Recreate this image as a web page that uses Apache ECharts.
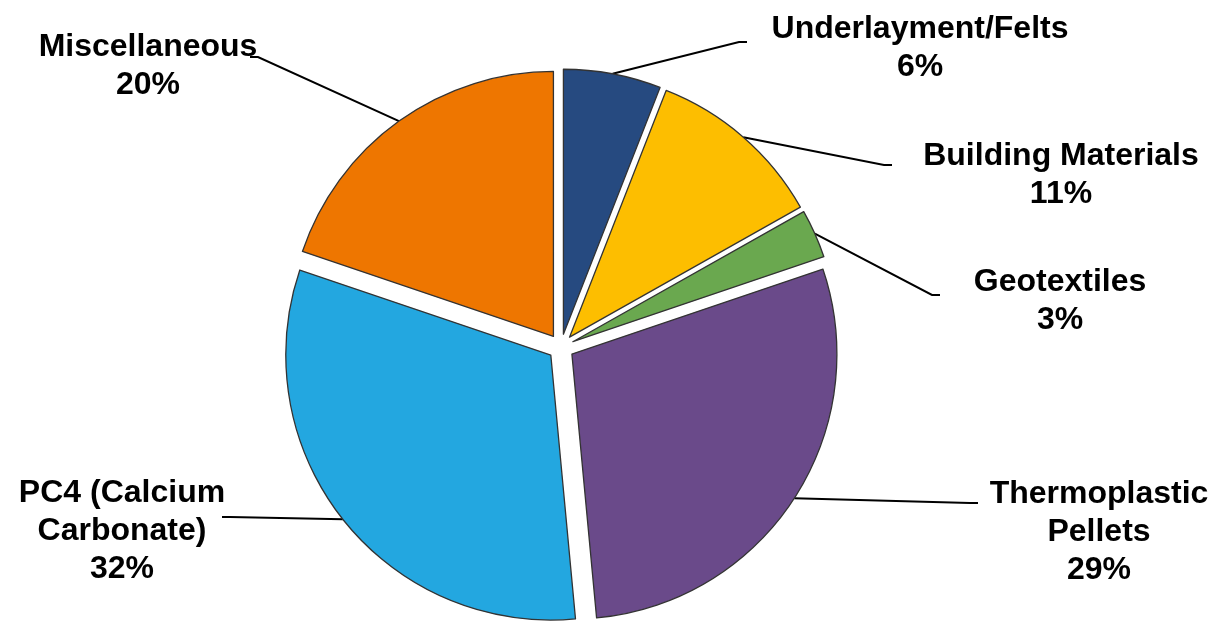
<!DOCTYPE html>
<html>
<head>
<meta charset="utf-8">
<script src="https://cdn.jsdelivr.net/npm/echarts@6/dist/echarts.min.js"></script>
<style>
  html, body { margin: 0; padding: 0; background: #fff; }
  #chart { width: 1228px; height: 623px; }
</style>
</head>
<body>
<div id="chart"></div>
<script>
(function() {
  // slice order runs clockwise from 12 o'clock
  var names = [
    'Underlayment/Felts',
    'Building Materials',
    'Geotextiles',
    'Thermoplastic\nPellets',
    'PC4 (Calcium\nCarbonate)',
    'Miscellaneous'
  ];
  var shares = [6, 11, 3, 29, 32, 20];
  var colors = ['#264a80', '#fdbe00', '#6aa84f', '#6a4a8a', '#23a7e0', '#ee7600'];

  var center = [561, 347];
  var radius = 265;
  var explode = 13;

  // label placement: text block centre and where the leader line ends
  var labelSpots = [
    { x: 920, y: 48, end: [747, 42], side: 1 },
    { x: 1061, y: 175, end: [892, 165], side: 1 },
    { x: 1060, y: 301, end: [940, 295], side: 1 },
    { x: 1099, y: 532, end: [978, 503], side: 1 },
    { x: 122, y: 531, end: [222, 517], side: -1 },
    { x: 148, y: 66, end: [250, 57], side: -1 }
  ];

  var slices = names.map(function(n, i) {
    return { name: n, value: shares[i], selected: true, itemStyle: { color: colors[i] } };
  });
  var labels = names.map(function(n, i) {
    return { name: n, value: shares[i] };
  });

  var chart = echarts.init(document.getElementById('chart'), null, { renderer: 'canvas' });
  chart.setOption({
    animation: false,
    backgroundColor: '#fff',
    series: [{
      // exploded slices
      type: 'pie',
      center: center,
      radius: radius,
      startAngle: 90,
      clockwise: true,
      selectedMode: 'multiple',
      selectedOffset: explode,
      emphasis: { disabled: true },
      itemStyle: { borderColor: '#333', borderWidth: 1.3 },
      label: { show: false },
      labelLine: { show: false },
      data: slices
    }, {
      // invisible ring at the exploded rim, carries the labels and leader lines
      type: 'pie',
      silent: true,
      center: center,
      radius: radius + explode,
      startAngle: 90,
      clockwise: true,
      emphasis: { disabled: true },
      itemStyle: { color: 'rgba(0,0,0,0)', borderWidth: 0 },
      label: {
        show: true,
        position: 'outside',
        formatter: '{b}\n{c}%',
        fontFamily: '"Liberation Sans", Arial, sans-serif',
        fontWeight: 'bold',
        fontSize: 32,
        lineHeight: 38,
        color: '#000',
        align: 'center'
      },
      labelLine: {
        show: true,
        length: 20,
        length2: 20,
        lineStyle: { color: '#000', width: 2 }
      },
      labelLayout: function(p) {
        var s = labelSpots[p.dataIndex];
        var pts = p.labelLinePoints;
        var start = pts && pts.length ? pts[0] : s.end;
        return {
          x: s.x,
          y: s.y,
          align: 'center',
          verticalAlign: 'middle',
          labelLinePoints: [start, [s.end[0] - 8 * s.side, s.end[1]], s.end]
        };
      },
      data: labels
    }]
  });
  window.addEventListener('resize', function() { chart.resize(); });
})();
</script>
</body>
</html>
